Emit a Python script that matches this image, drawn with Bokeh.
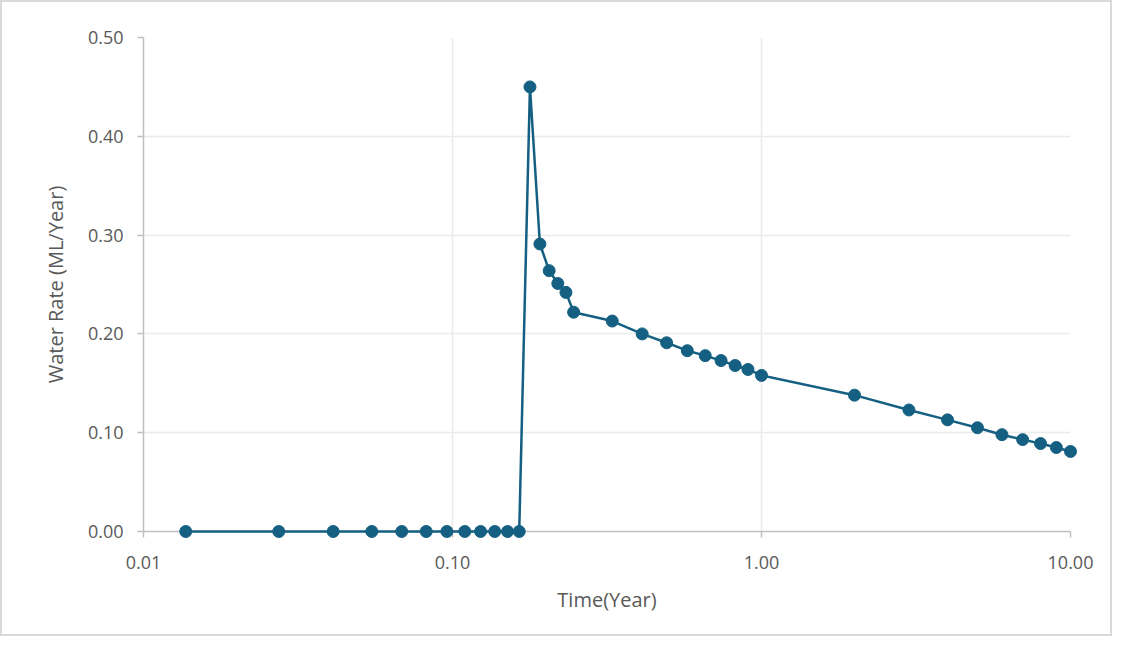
from bokeh.plotting import figure
from bokeh.models import Range1d, FixedTicker, NumeralTickFormatter
from bokeh.embed import file_html
from bokeh.resources import INLINE

time_year = [0.0137, 0.0274, 0.0411, 0.0548, 0.0685, 0.0822, 0.0959, 0.1096,
             0.1233, 0.1370, 0.1507, 0.1644, 0.1781, 0.1918, 0.2055, 0.2192,
             0.2329, 0.2466, 0.3288, 0.4110, 0.4932, 0.5753, 0.6575, 0.7397,
             0.8219, 0.9041, 1.0, 2.0, 3.0, 4.0, 5.0, 6.0, 7.0, 8.0, 9.0, 10.0]
water_rate = [0, 0, 0, 0, 0, 0, 0, 0, 0, 0, 0, 0,
              0.450, 0.291, 0.264, 0.251, 0.242, 0.222,
              0.213, 0.200, 0.191, 0.183, 0.178, 0.173, 0.168, 0.164,
              0.158, 0.138, 0.123, 0.113, 0.105, 0.098, 0.093, 0.089, 0.085, 0.081]
x_ticks = [0.01, 0.1, 1, 10]
y_ticks = [0.0, 0.1, 0.2, 0.3, 0.4, 0.5]

FONT = "Open Sans"
TXT = "#595959"
COL = "#156082"

p = figure(width=1112, height=636, x_axis_type="log",
           x_range=Range1d(0.01, 10), y_range=Range1d(0, 0.5),
           output_backend="svg", toolbar_location=None,
           min_border_left=141, min_border_right=44,
           min_border_top=35, min_border_bottom=107)
p.styles = {"border": "2px solid #d9d9d9"}
p.outline_line_color = None

p.line(time_year, water_rate, line_color=COL, line_width=2.5, level="overlay")
p.scatter(time_year, water_rate, size=12, fill_color=COL, line_color=COL,
          level="overlay")

p.xaxis.ticker = FixedTicker(ticks=x_ticks)
p.yaxis.ticker = FixedTicker(ticks=y_ticks)
p.xaxis.formatter = NumeralTickFormatter(format="0.00")
p.yaxis.formatter = NumeralTickFormatter(format="0.00")
p.xaxis.axis_label = "Time(Year)"
p.yaxis.axis_label = "Water Rate (ML/Year)"

for ax in (p.xaxis[0], p.yaxis[0]):
    ax.axis_line_color = "#bfbfbf"
    ax.axis_line_width = 1.5
    ax.major_tick_line_color = "#bfbfbf"
    ax.major_tick_line_width = 1.5
    ax.major_tick_out = 6
    ax.major_tick_in = 0
    ax.minor_tick_line_color = None
    ax.major_label_text_font = FONT
    ax.major_label_text_font_size = "18px"
    ax.major_label_text_color = TXT
    ax.axis_label_text_font = FONT
    ax.axis_label_text_font_size = "20px"
    ax.axis_label_text_color = TXT
    ax.axis_label_text_font_style = "normal"

p.xaxis.major_label_standoff = 18
p.yaxis.major_label_standoff = 14
p.xaxis.axis_label_standoff = 14
p.yaxis.axis_label_standoff = 16

p.xgrid.grid_line_color = "#ebebeb"
p.ygrid.grid_line_color = "#ebebeb"
p.xgrid.grid_line_width = 1.5
p.ygrid.grid_line_width = 1.5

open("out.html", "w").write(file_html(p, INLINE))
